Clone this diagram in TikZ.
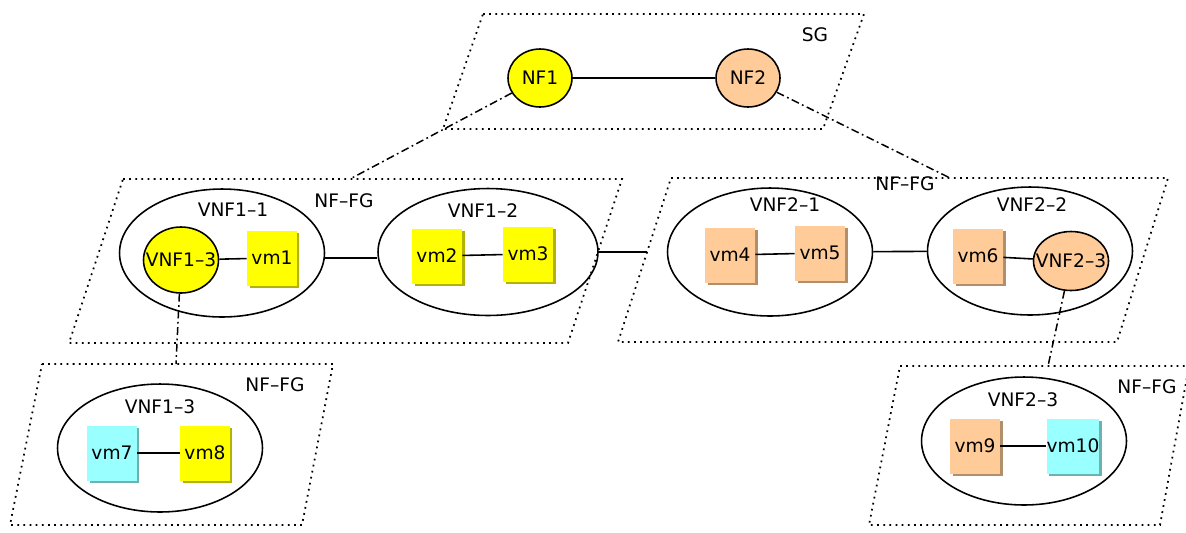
\documentclass[tikz,border=0pt]{standalone}
\usepackage{fontspec}
\setmainfont{DejaVu Sans}
\usetikzlibrary{shapes.geometric,shadows,calc}

\definecolor{nfyellow}{HTML}{FFFF00}
\definecolor{nforange}{HTML}{FFCC99}
\definecolor{nfcyan}{HTML}{99FFFF}

\begin{document}
\begin{tikzpicture}[x=0.02cm, y=-0.02cm, font=\fontsize{10.6}{12}\selectfont,
		fgbox/.style={line width=1pt, dash pattern=on 1pt off 2.5pt},
		link/.style={line width=0.9pt},
		chain/.style={line width=0.85pt, dash pattern=on 4.5pt off 2pt on 1pt off 2pt},
		vnf/.style={draw, ellipse, line width=0.9pt, minimum width=4.1cm, minimum height=2.56cm, inner sep=0pt},
		nf/.style={draw, ellipse, line width=0.9pt, minimum width=1.28cm, minimum height=1.16cm, inner sep=0pt},
		subvnf/.style={draw, ellipse, line width=0.9pt, minimum width=1.5cm, minimum height=1.32cm, inner sep=0pt},
		vm/.style={rectangle, fill=#1, minimum width=1cm, minimum height=1.1cm, inner sep=0pt,
			drop shadow={shadow xshift=0.05cm, shadow yshift=-0.05cm, opacity=1, fill=#1!70!black}}]
		\useasboundingbox (0,0) rectangle (1186,532);
		
		% service graph
		\draw[fgbox] (483,14) -- (864,14) -- (823,129) -- (443,129) -- cycle;
		\node (sg) at (815,35) {SG};
		\node[nf, fill=nfyellow] (nf1) at (540,78) {NF1};
		\node[nf, fill=nforange] (nf2) at (748,78) {NF2};
		\draw[link] (nf1) -- (nf2);
		
		% NF-FG boxes
		\draw[fgbox] (123,179) -- (622,179) coordinate (fg1ne) -- (568,343) coordinate (fg1se) -- (69,343) -- cycle;
		\draw[fgbox] (671,178) coordinate (fg2nw) -- (1168,178) -- (1117,342) -- (618,342) coordinate (fg2sw) -- cycle;
		\draw[fgbox] (42,364) -- (333,364) -- (302,525) -- (10,525) -- cycle;
		\draw[fgbox] (900,366) -- (1189,366) -- (1160,525) -- (869,525) -- cycle;
		\node (fg1lbl) at (344,201) {NF--FG};
		\node (fg2lbl) at (905,184) {NF--FG};
		\node (fg3lbl) at (275,385) {NF--FG};
		\node (fg4lbl) at (1147,387) {NF--FG};
		
		\coordinate (fg1top) at (350,179);
		\coordinate (fg2top) at (950,178);
		\coordinate (fg3top) at (176,364);
		\coordinate (fg4top) at (1048,366);
		\coordinate (fg1e) at ($(fg1ne)!0.445!(fg1se)$);
		\coordinate (fg2w) at ($(fg2nw)!0.451!(fg2sw)$);
		
		% NF1
		\node[vnf] (vnf11) at (222,253) {};
		\node (vnf11lbl) at (233,210) {VNF1--1};
		\node[subvnf, fill=nfyellow, label=center:VNF1--3] (vnf13) at (181,260) {};
		\node[vm=nfyellow] (vm1) at (272,258) {vm1};
		
		\node[vnf, minimum width=4.4cm, minimum height=2.54cm] (vnf12) at (488,252) {};
		\node (vnf12lbl) at (483,211) {VNF1--2};
		\node[vm=nfyellow] (vm2) at (437,256) {vm2};
		\node[vm=nfyellow] (vm3) at (528,254) {vm3};
		
		% NF2
		\node[vnf] (vnf21) at (770,252) {};
		\node (vnf21lbl) at (785,205) {VNF2--1};
		\node[vm=nforange] (vm4) at (730,255) {vm4};
		\node[vm=nforange] (vm5) at (820,253) {vm5};
		
		\node[vnf] (vnf22) at (1030,251) {};
		\node (vnf22lbl) at (1032,205) {VNF2--2};
		\node[vm=nforange] (vm6) at (978,256) {vm6};
		\node[subvnf, fill=nforange, minimum height=1.18cm, label=center:VNF2--3] (vnf23) at (1071,261) {};
		
		% lower graphs
		\node[vnf] (vnf13g) at (160,448) {};
		\node (vnf13lbl) at (160,407) {VNF1--3};
		\node[vm=nfcyan] (vm7) at (112,453) {vm7};
		\node[vm=nfyellow] (vm8) at (205,453) {vm8};
		
		\node[vnf] (vnf23g) at (1024,441) {};
		\node (vnf23lbl) at (1023,400) {VNF2--3};
		\node[vm=nforange] (vm9) at (975,446) {vm9};
		\node[vm=nfcyan] (vm10) at (1073,446) {vm10};
		
		% links
		\draw[link] (vnf13) -- (vm1);
		\draw[link] (vnf11.east |- vm1) -- (vnf12.west |- vm1);
		\draw[link] (vm2) -- (vm3);
		\draw[link] (fg1e) -- (fg2w);
		\draw[link] (vm4) -- (vm5);
		\draw[link] (vnf21) -- (vnf22);
		\draw[link] (vm6) -- (vnf23);
		\draw[link] (vm7) -- (vm8);
		\draw[link] (vm9) -- (vm10);
		
		\draw[chain] (nf1) -- (fg1top);
		\draw[chain] (nf2) -- (fg2top);
		\draw[chain] (vnf13) -- (fg3top);
		\draw[chain] (vnf23) -- (fg4top);
	\end{tikzpicture}
\end{document}
